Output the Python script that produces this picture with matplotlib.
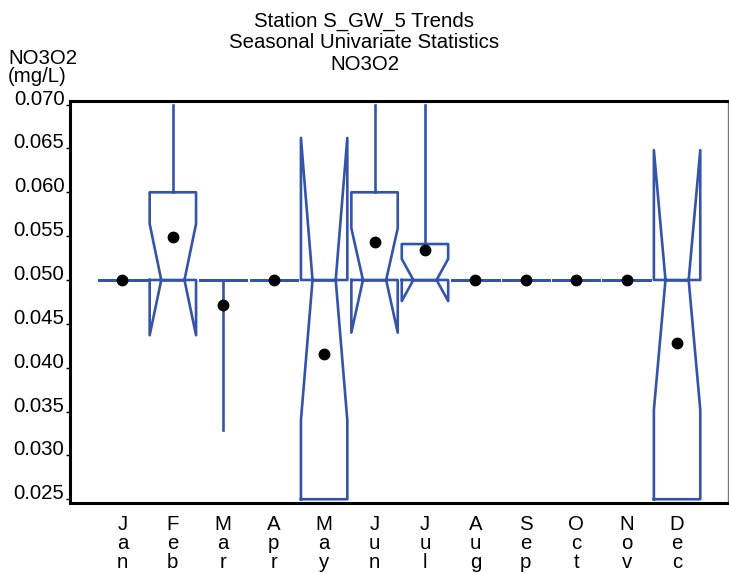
import matplotlib
matplotlib.use("Agg")
import matplotlib.pyplot as plt

plt.rcParams['font.family'] = ['Liberation Sans', 'DejaVu Sans']

months = ["Jan", "Feb", "Mar", "Apr", "May", "Jun", "Jul", "Aug", "Sep", "Oct", "Nov", "Dec"]
q1 =     [0.050, 0.050, 0.050, 0.050, 0.025, 0.050, 0.050, 0.050, 0.050, 0.050, 0.050, 0.025]
median = [0.050, 0.050, 0.050, 0.050, 0.050, 0.050, 0.050, 0.050, 0.050, 0.050, 0.050, 0.050]
q3 =     [0.050, 0.060, 0.050, 0.050, 0.050, 0.060, 0.0541, 0.050, 0.050, 0.050, 0.050, 0.050]
whis_lo = [0.050, 0.050, 0.0329, 0.050, 0.025, 0.050, 0.050, 0.050, 0.050, 0.050, 0.050, 0.025]
whis_hi = [0.050, 0.070, 0.050, 0.050, 0.050, 0.070, 0.070, 0.050, 0.050, 0.050, 0.050, 0.050]
notch_lo = [0.050, 0.0437, 0.050, 0.050, 0.0340, 0.0440, 0.0476, 0.050, 0.050, 0.050, 0.050, 0.0352]
notch_hi = [0.050, 0.0564, 0.050, 0.050, 0.0662, 0.0559, 0.0524, 0.050, 0.050, 0.050, 0.050, 0.0648]
means =  [0.050, 0.0549, 0.0471, 0.050, 0.0416, 0.0543, 0.0534, 0.050, 0.050, 0.050, 0.050, 0.0428]
yticks = [0.025, 0.030, 0.035, 0.040, 0.045, 0.050, 0.055, 0.060, 0.065, 0.070]

stats = []
for i in range(len(months)):
    stats.append(dict(med=median[i], q1=q1[i], q3=q3[i], whislo=whis_lo[i], whishi=whis_hi[i],
                      cilo=notch_lo[i], cihi=notch_hi[i], mean=means[i], fliers=[], label=months[i]))

BLUE = '#3454a8'
FS = 14.7
fig = plt.figure(figsize=(7.29, 5.73), dpi=100)
ax = fig.add_axes([70/729, 1-503/573, 658/729, 402/573])

lp = dict(color=BLUE, linewidth=1.9)
positions = list(range(1, len(months)+1))
ax.bxp(stats, positions=positions, widths=0.92, shownotches=True, showmeans=True,
       showcaps=False, showfliers=False,
       boxprops=lp, whiskerprops=lp, medianprops=lp,
       meanprops=dict(marker='o', markerfacecolor='black', markeredgecolor='black', markersize=7.5))

ax.set_xlim(-0.04, 13.01)
ax.set_ylim(0.02457, 0.07041)
ax.set_yticks(yticks)
ax.set_yticklabels([f"{v:.3f}" for v in yticks], fontsize=FS)
for lbl in ax.get_yticklabels():
    lbl.set_va('baseline')
ax.set_xticks(positions)
ax.set_xticklabels(["\n".join(m) for m in months], fontsize=FS, linespacing=0.97)
ax.tick_params(axis='y', length=3, width=1, pad=1)
ax.tick_params(axis='x', length=0, pad=9)

for s in ['top', 'left', 'bottom']:
    ax.spines[s].set_linewidth(2.2)
    ax.spines[s].set_color('black')
ax.spines['right'].set_linewidth(1)
ax.spines['right'].set_color('#777777')

fig.text(0.5, 1-12/573, "Station S_GW_5 Trends\nSeasonal Univariate Statistics\nNO3O2",
         ha='center', va='top', fontsize=FS, linespacing=1.15)
fig.text(8/729, 1-49/573, "NO3O2\n(mg/L)", ha='left', va='top', fontsize=FS, linespacing=0.95)

fig.savefig("out.png", dpi=100)
